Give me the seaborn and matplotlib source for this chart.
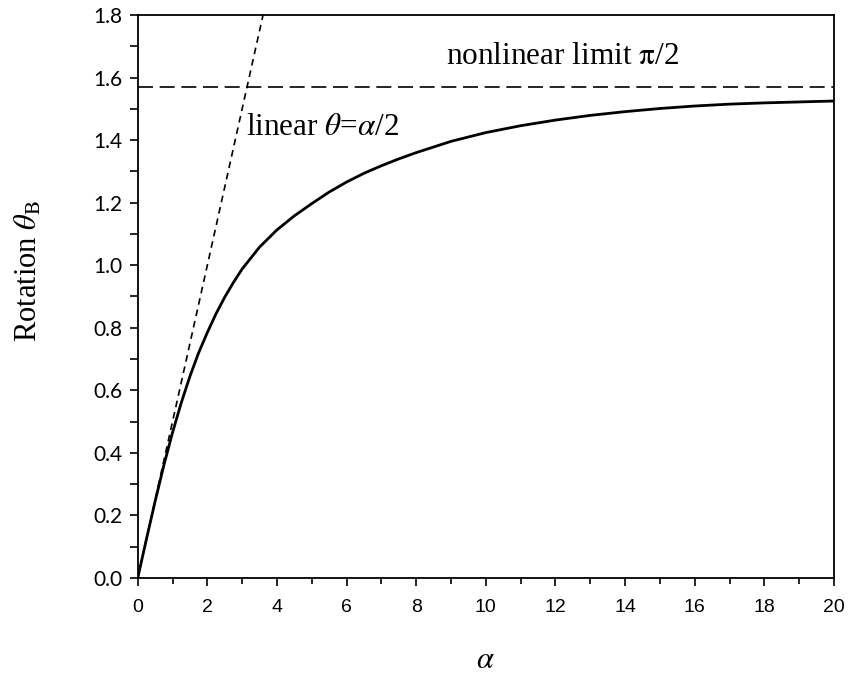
import numpy as np
import pandas as pd
import matplotlib
matplotlib.use("Agg")
import matplotlib.pyplot as plt
import seaborn as sns
from matplotlib.ticker import MultipleLocator

# valores
alpha = [0, 0.25, 0.5, 0.75, 1, 1.25, 1.5, 1.75, 2, 2.25, 2.5, 2.75, 3, 3.5, 4,
         4.5, 5, 5.5, 6, 6.5, 7, 7.5, 8, 9, 10, 11, 12, 13, 14, 15, 16, 17, 18,
         19, 20]
theta = [0, 0.124, 0.245, 0.36, 0.465, 0.56, 0.645, 0.72, 0.785, 0.845, 0.898,
         0.945, 0.988, 1.058, 1.113, 1.158, 1.197, 1.234, 1.266, 1.294, 1.318,
         1.340, 1.360, 1.396, 1.424, 1.446, 1.464, 1.479, 1.491, 1.501, 1.509,
         1.515, 1.519, 1.522, 1.525]

# reta linear theta = alpha/2 (até sair pelo topo)
linear_alpha = [0, 3.6]
linear_theta = [0, 1.8]

# limite não linear
limit_value = np.pi / 2

x_ticks = [0, 2, 4, 6, 8, 10, 12, 14, 16, 18, 20]
y_ticks = [0.0, 0.2, 0.4, 0.6, 0.8, 1.0, 1.2, 1.4, 1.6, 1.8]

sns.set_theme(style="ticks")
plt.rcParams["mathtext.fontset"] = "stix"
plt.rcParams["text.color"] = "black"
plt.rcParams["axes.labelcolor"] = "black"

df = pd.DataFrame({"alpha": alpha, "theta": theta})

fig = plt.figure(figsize=(8.48, 6.75), dpi=100)
ax = fig.add_axes([0.1624, 0.1437, 0.8211, 0.8341])

sns.lineplot(data=df, x="alpha", y="theta", color="black", linewidth=2.0, ax=ax)
ax.plot(linear_alpha, linear_theta, color="black", linewidth=1.2,
        linestyle=(0, (4, 3)))
ax.axhline(limit_value, color="black", linewidth=1.2, linestyle=(0, (9, 4)))

ax.set_xlim(0, 20)
ax.set_ylim(0, 1.8)
ax.set_xticks(x_ticks)
ax.set_yticks(y_ticks)
ax.xaxis.set_minor_locator(MultipleLocator(1))
ax.yaxis.set_minor_locator(MultipleLocator(0.1))
ax.set_xticklabels([str(v) for v in x_ticks], family="Liberation Sans", fontsize=14)
ax.set_yticklabels([f"{v:.1f}" for v in y_ticks], family="Lato", fontsize=15)

ax.tick_params(axis="x", which="major", direction="out", length=6, width=1.2,
               pad=9, color="black", labelcolor="black")
ax.tick_params(axis="x", which="minor", direction="out", length=4, width=1.2,
               color="black")
ax.tick_params(axis="y", which="both", direction="out", length=6, width=1.2,
               pad=5, color="black", labelcolor="black")

for side in ["left", "right", "top", "bottom"]:
    ax.spines[side].set_visible(True)
    ax.spines[side].set_color("black")
    ax.spines[side].set_linewidth(1.3)

serif = "Liberation Serif"
ax.set_xlabel(r"$\alpha$", fontsize=22, family=serif)
ax.set_ylabel(r"Rotation $\theta_{\mathrm{B}}$", fontsize=22, family=serif)
ax.xaxis.set_label_coords(0.5, -0.147)
ax.xaxis.label.set_va("center")
ax.yaxis.set_label_coords(-0.157, 0.546)
ax.yaxis.label.set_va("center")

ax.text(8.85, 1.668, r"nonlinear limit $\mathrm{\pi}$/2", fontsize=22.5,
        family=serif, ha="left", va="center")
ax.text(3.12, 1.44, r"linear $\theta$=$\alpha$/2", fontsize=22.5,
        family=serif, ha="left", va="center")

fig.savefig("out.png", dpi=100)
